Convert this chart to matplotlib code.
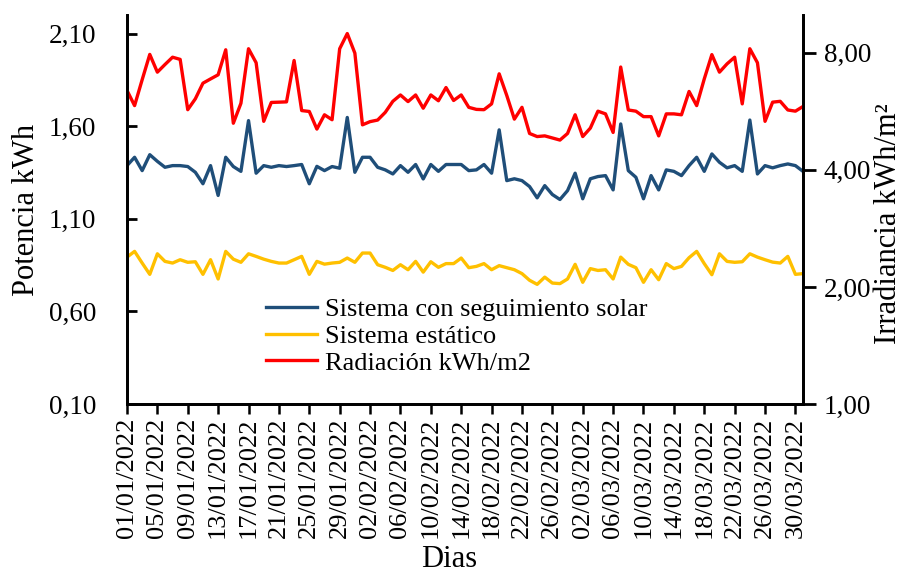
import matplotlib
matplotlib.use("Agg")
import matplotlib.pyplot as plt
from matplotlib.ticker import FuncFormatter, FixedLocator, NullLocator
import matplotlib.dates as mdates
import pandas as pd

plt.rcParams['font.family'] = ['Liberation Serif', 'DejaVu Serif']

# daily values, 01/01/2022 - 31/03/2022
dias = pd.date_range("2022-01-01", "2022-03-31", freq="D")

seguimiento = [
    1.387, 1.432, 1.360, 1.446, 1.410, 1.378, 1.387, 1.387, 1.382, 1.351,
    1.289, 1.387, 1.226, 1.432, 1.382, 1.356, 1.630, 1.346, 1.387, 1.378,
    1.387, 1.382, 1.387, 1.393, 1.289, 1.383, 1.360, 1.382, 1.373, 1.647,
    1.351, 1.432, 1.432, 1.378, 1.364, 1.342, 1.387, 1.351, 1.393, 1.315,
    1.393, 1.356, 1.393, 1.393, 1.393, 1.360, 1.364, 1.393, 1.346, 1.580,
    1.306, 1.316, 1.306, 1.274, 1.213, 1.279, 1.231, 1.204, 1.252, 1.346,
    1.208, 1.316, 1.328, 1.333, 1.256, 1.612, 1.360, 1.324, 1.208, 1.333,
    1.256, 1.364, 1.356, 1.333, 1.387, 1.432, 1.356, 1.450, 1.405, 1.375,
    1.387, 1.356, 1.633, 1.342, 1.387, 1.375, 1.387, 1.396, 1.387, 1.356,
]

estatico = [
    0.893, 0.924, 0.861, 0.800, 0.911, 0.870, 0.861, 0.879, 0.865, 0.868,
    0.800, 0.879, 0.775, 0.924, 0.882, 0.865, 0.911, 0.897, 0.882, 0.870,
    0.861, 0.861, 0.879, 0.897, 0.800, 0.870, 0.855, 0.861, 0.865, 0.888,
    0.865, 0.915, 0.915, 0.852, 0.838, 0.821, 0.852, 0.825, 0.870, 0.812,
    0.868, 0.838, 0.858, 0.858, 0.888, 0.836, 0.843, 0.858, 0.825, 0.847,
    0.836, 0.825, 0.804, 0.768, 0.746, 0.785, 0.753, 0.750, 0.775, 0.854,
    0.757, 0.831, 0.821, 0.825, 0.775, 0.893, 0.854, 0.836, 0.757, 0.825,
    0.771, 0.858, 0.831, 0.843, 0.890, 0.924, 0.858, 0.798, 0.911, 0.870,
    0.865, 0.868, 0.911, 0.893, 0.879, 0.866, 0.861, 0.897, 0.800, 0.804,
]

radiacion = [
    6.40, 5.85, 6.82, 7.92, 7.13, 7.46, 7.79, 7.69, 5.71, 6.09,
    6.68, 6.85, 7.02, 8.14, 5.27, 5.93, 8.19, 7.54, 5.33, 5.96,
    5.97, 5.98, 7.64, 5.68, 5.65, 5.09, 5.54, 5.38, 8.19, 8.96,
    7.98, 5.22, 5.32, 5.37, 5.62, 6.00, 6.23, 5.99, 6.23, 5.76,
    6.23, 6.02, 6.51, 6.03, 6.23, 5.79, 5.72, 5.71, 5.91, 7.06,
    6.21, 5.40, 5.79, 4.96, 4.87, 4.89, 4.83, 4.77, 4.96, 5.54,
    4.87, 5.12, 5.66, 5.57, 4.99, 7.35, 5.70, 5.66, 5.48, 5.48,
    4.89, 5.57, 5.57, 5.54, 6.36, 5.85, 6.85, 7.91, 7.13, 7.49,
    7.79, 5.91, 8.19, 7.54, 5.33, 5.97, 6.00, 5.70, 5.66, 5.82,
]

left_ticks = [0.10, 0.60, 1.10, 1.60, 2.10]
right_ticks = [1, 2, 4, 8]


def coma(v, pos=None):
    return f"{v:.2f}".replace(".", ",")


fig = plt.figure(figsize=(9.09, 5.73), dpi=100)
ax = fig.add_axes([0.1397, 0.2949, 0.7437, 0.6789])
ax2 = ax.twinx()

l1, = ax.plot(dias, seguimiento, color="#1F4E79", lw=2.4)
l2, = ax.plot(dias, estatico, color="#FFC000", lw=2.4)
l3, = ax2.plot(dias, radiacion, color="#FF0000", lw=2.4)

ax.set_xlim(dias[0], dias[-1])
ax.set_ylim(0.1, 2.2)
ax.yaxis.set_major_locator(FixedLocator(left_ticks))
ax.yaxis.set_major_formatter(FuncFormatter(coma))

ax2.set_yscale("log", base=2)
ax2.set_ylim(1, 10)
ax2.yaxis.set_major_locator(FixedLocator(right_ticks))
ax2.yaxis.set_minor_locator(NullLocator())
ax2.yaxis.set_major_formatter(FuncFormatter(coma))

ax.set_xticks(dias[::4])
ax.xaxis.set_major_formatter(mdates.DateFormatter("%d/%m/%Y"))
ax.xaxis.set_minor_locator(NullLocator())

for a in (ax, ax2):
    a.spines["top"].set_visible(False)
    for s in ("left", "right", "bottom"):
        a.spines[s].set_linewidth(2.0)

ax.tick_params(axis="x", direction="out", length=7, width=1.8, labelsize=19,
               labelrotation=90, pad=3)
ax.tick_params(axis="y", direction="in", length=7, width=2, labelsize=19.5, pad=22)
ax2.tick_params(axis="y", direction="out", length=9, width=2, labelsize=19.5, pad=6)

ax.set_xlabel("Dias", fontsize=22)
ax.xaxis.set_label_coords(0.476, -0.362)
ax.set_ylabel("Potencia kWh", fontsize=22, labelpad=6)
ax2.set_ylabel("Irradiancia kWh/m²", fontsize=22, labelpad=2)
ax2.yaxis.label.set_y(0.465)

ax2.legend([l1, l2, l3],
           ["Sistema con seguimiento solar", "Sistema estático", "Radiación kWh/m2"],
           loc="upper left", bbox_to_anchor=(0.19, 0.30), frameon=False,
           fontsize=19, handlelength=1.95, handletextpad=0.3, labelspacing=0.12,
           borderaxespad=0)

fig.savefig("out.png", dpi=100)
